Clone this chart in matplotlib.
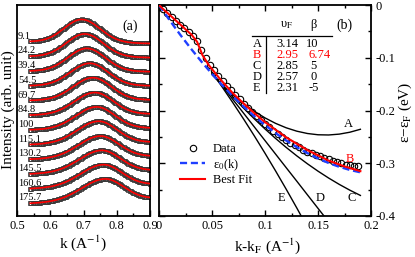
import matplotlib
matplotlib.use('Agg')
import matplotlib.pyplot as plt
import numpy as np
from matplotlib.ticker import MultipleLocator, FixedLocator
from matplotlib.lines import Line2D

plt.rcParams['font.family'] = ['Liberation Serif', 'DejaVu Serif']
plt.rcParams['mathtext.fontset'] = 'stix'

# ---------------- panel (a): MDC curves ----------------
temps = ['9.1', '24.2', '39.4', '54.5', '69.7', '84.8', '100', '115.1', '130.2', '145.5', '160.6', '175.7']
peak_k = [0.695, 0.704, 0.710, 0.719, 0.728, 0.734, 0.739, 0.745, 0.750, 0.754, 0.759, 0.764]
amp = [23.0, 23.0, 23.0, 22.5, 22.5, 22.0, 22.0, 22.0, 21.5, 21.5, 21.5, 21.5]
sig_left = [0.053, 0.055, 0.056, 0.058, 0.059, 0.061, 0.062, 0.064, 0.065, 0.067, 0.068, 0.070]
sig_right = [0.055, 0.055, 0.055, 0.055, 0.055, 0.055, 0.055, 0.055, 0.056, 0.056, 0.056, 0.056]
base_left = [174.3, 159.6, 144.9, 130.2, 115.5, 100.8, 86.1, 71.4, 56.7, 42.0, 27.3, 12.6]
base_right = [172.5, 158.4, 144.3, 130.2, 116.1, 102.0, 87.9, 73.8, 59.7, 45.6, 31.5, 17.4]

# ---------------- panel (b): dispersion ----------------
data_k = [0.004, 0.008, 0.012, 0.016, 0.020, 0.024, 0.028, 0.032, 0.036, 0.040, 0.044, 0.048,
          0.052, 0.056, 0.060, 0.064, 0.068, 0.072, 0.076, 0.080, 0.084, 0.088, 0.092, 0.096,
          0.100, 0.104, 0.108, 0.112, 0.116, 0.120, 0.124, 0.128, 0.132, 0.136, 0.140, 0.144,
          0.148, 0.152, 0.156, 0.160, 0.164, 0.168, 0.172, 0.176, 0.180, 0.184, 0.188]
data_e = [-0.007, -0.016, -0.022, -0.030, -0.037, -0.044, -0.052, -0.059, -0.068, -0.085, -0.100, -0.114,
          -0.124, -0.135, -0.144, -0.153, -0.162, -0.171, -0.179, -0.188, -0.195, -0.203, -0.210, -0.218,
          -0.225, -0.231, -0.238, -0.244, -0.251, -0.256, -0.261, -0.265, -0.270, -0.274, -0.278, -0.281,
          -0.284, -0.287, -0.290, -0.292, -0.296, -0.298, -0.300, -0.303, -0.304, -0.305, -0.305]

fit_k = [0.0, 0.003, 0.019, 0.031, 0.036, 0.041, 0.047, 0.057, 0.070, 0.080, 0.090, 0.100,
         0.120, 0.140, 0.160, 0.175, 0.190]
fit_e = [0.0, -0.006, -0.035, -0.057, -0.070, -0.095, -0.114, -0.139, -0.168, -0.187, -0.205, -0.222,
         -0.251, -0.275, -0.295, -0.306, -0.315]

eps0_k = [0.0, 0.01, 0.02, 0.03, 0.04, 0.05, 0.06, 0.07, 0.08, 0.09, 0.10, 0.11, 0.12, 0.13,
          0.14, 0.15, 0.16, 0.17, 0.18, 0.19]
eps0_e = [0.0, -0.0288, -0.0563, -0.0824, -0.1072, -0.1306, -0.1527, -0.1735, -0.1929, -0.2109,
          -0.2276, -0.2429, -0.2569, -0.2696, -0.2809, -0.2908, -0.2995, -0.3067, -0.3126, -0.3172]

curveA_k = [0.05, 0.06, 0.07, 0.08, 0.09, 0.10, 0.11, 0.12, 0.13, 0.14, 0.15, 0.16, 0.17, 0.18, 0.19]
curveA_e = [-0.132, -0.1524, -0.1708, -0.1872, -0.2016, -0.214, -0.2244, -0.2328, -0.2392, -0.2436,
            -0.246, -0.2464, -0.2448, -0.2412, -0.2356]
curveC_k = [0.05, 0.06, 0.07, 0.08, 0.09, 0.10, 0.11, 0.12, 0.13, 0.14, 0.15, 0.16, 0.17, 0.18, 0.19]
curveC_e = [-0.130, -0.153, -0.175, -0.196, -0.216, -0.235, -0.253, -0.270, -0.286, -0.301,
            -0.315, -0.328, -0.340, -0.351, -0.361]
curveD_k = [0.05, 0.06, 0.07, 0.08, 0.09, 0.10, 0.11, 0.12, 0.13, 0.14, 0.15, 0.16]
curveD_e = [-0.1285, -0.154, -0.180, -0.2056, -0.2313, -0.257, -0.2827, -0.3084, -0.334, -0.3598,
            -0.3855, -0.411]
curveE_k = [0.05, 0.06, 0.07, 0.08, 0.09, 0.10, 0.11, 0.12, 0.13, 0.14]
curveE_e = [-0.128, -0.1566, -0.1862, -0.2168, -0.2484, -0.281, -0.3146, -0.3492, -0.3848, -0.4214]

table_names = ['A', 'B', 'C', 'D', 'E']
table_vF = ['3.14', '2.95', '2.85', '2.57', '2.31']
table_beta = ['10', '6.74', '5', '0', '-5']

fig = plt.figure(figsize=(4.15, 2.57), dpi=100)
ax1 = fig.add_axes([17/415, 1-216/257, 133/415, 211/257])
ax2 = fig.add_axes([159/415, 1-216/257, 212/415, 211/257])

for ax in (ax1, ax2):
    for s in ax.spines.values():
        s.set_linewidth(1.3)

# ---- panel (a)
kd = np.arange(0.54, 0.9001, 0.0036)
kf = np.linspace(0.54, 0.9, 300)
for i in range(len(temps)):
    def model(k):
        base = base_left[i] + (base_right[i] - base_left[i]) * (k - 0.54) / 0.36
        sig = np.where(k < peak_k[i], sig_left[i], sig_right[i])
        return base + amp[i] * np.exp(-0.5 * ((k - peak_k[i]) / sig) ** 2)
    ax1.plot(kd, model(kd), 's', ms=2.6, mfc='none', mec='#3a3a3a', mew=0.6, zorder=2)
    ax1.plot(kf, model(kf), color='red', lw=1.2, zorder=3)
    ax1.text(0.503, base_left[i] + 3.0, temps[i], fontsize=7.5, ha='left', va='baseline', zorder=4)

ax1.set_xlim(0.5, 0.9)
ax1.set_ylim(0, 211)
ax1.xaxis.set_major_locator(FixedLocator([0.5, 0.6, 0.7, 0.8, 0.9]))
ax1.xaxis.set_minor_locator(MultipleLocator(0.05))
ax1.set_xticklabels(['0.5', '0.6', '0.7', '0.8', '0.9'])
ax1.set_yticks([])
ax1.tick_params(axis='x', which='both', direction='in', labelsize=9, pad=3, width=1.0)
ax1.tick_params(axis='x', which='major', length=4.5)
ax1.tick_params(axis='x', which='minor', length=2.5)
ax1.text(0.85, 0.9, '(a)', transform=ax1.transAxes, fontsize=10, ha='center', va='center')

# ---- panel (b)
ax2.plot(data_k, data_e, 'o', ms=4.6, mfc='none', mec='black', mew=0.8, zorder=2)
for kk, ee in ((curveA_k, curveA_e), (curveC_k, curveC_e), (curveD_k, curveD_e), (curveE_k, curveE_e)):
    ax2.plot(kk, ee, color='black', lw=1.0, zorder=3)
ax2.plot(eps0_k, eps0_e, color='#1f3fff', lw=1.7, dashes=(3, 1.6), zorder=4)
ax2.plot(fit_k, fit_e, color='red', lw=1.5, zorder=5)

ax2.set_xlim(0, 0.2)
ax2.set_ylim(-0.4, 0)
ax2.xaxis.set_major_locator(FixedLocator([0, 0.05, 0.1, 0.15, 0.2]))
ax2.set_xticklabels(['0', '0.05', '0.1', '0.15', '0.2'])
ax2.xaxis.set_minor_locator(MultipleLocator(0.025))
ax2.yaxis.set_major_locator(FixedLocator([0, -0.1, -0.2, -0.3, -0.4]))
ax2.set_yticklabels(['0', '-0.1', '-0.2', '-0.3', '-0.4'])
ax2.yaxis.set_minor_locator(MultipleLocator(0.05))
ax2.tick_params(axis='both', which='both', direction='in', top=True, right=True, left=True,
                labelleft=False, labelright=True, labelsize=9, pad=3, width=1.0)
ax2.tick_params(axis='both', which='major', length=4.5)
ax2.tick_params(axis='both', which='minor', length=2.5)

# curve labels
ax2.text(0.179, -0.225, 'A', fontsize=9, ha='center', va='center')
ax2.text(0.180, -0.291, 'B', fontsize=9, ha='center', va='center', color='red')
ax2.text(0.182, -0.366, 'C', fontsize=9, ha='center', va='center')
ax2.text(0.152, -0.366, 'D', fontsize=9, ha='center', va='center')
ax2.text(0.116, -0.366, 'E', fontsize=9, ha='center', va='center')

# table
tr = ax2.transAxes
row_y = [0.815, 0.763, 0.711, 0.659, 0.607]
ax2.text(0.604, 0.905, r'υ$_\mathrm{F}$', transform=tr, fontsize=9, ha='center', va='center')
ax2.text(0.728, 0.905, 'β', transform=tr, fontsize=9, ha='center', va='center')
ax2.plot([0.439, 0.816], [0.851, 0.851], transform=tr, color='black', lw=0.9)
ax2.plot([0.505, 0.505], [0.848, 0.583], transform=tr, color='black', lw=0.9)
beta_x = [0.692, 0.705, 0.715, 0.715, 0.705]
for j in range(5):
    c = 'red' if table_names[j] == 'B' else 'black'
    ax2.text(0.462, row_y[j], table_names[j], transform=tr, fontsize=9, ha='center', va='center', color=c)
    ax2.text(0.604, row_y[j], table_vF[j], transform=tr, fontsize=9, ha='center', va='center', color=c)
    ax2.text(beta_x[j], row_y[j], table_beta[j], transform=tr, fontsize=9, ha='left', va='center', color=c)
ax2.text(0.877, 0.905, '(b)', transform=tr, fontsize=10, ha='center', va='center')

handles = [Line2D([], [], marker='o', ls='none', ms=4.6, mfc='none', mec='black', mew=0.8),
           Line2D([], [], color='#1f3fff', lw=1.7, dashes=(3, 1.6)),
           Line2D([], [], color='red', lw=1.5)]
ax2.legend(handles, ['Data', r'ε$_0$(k)', 'Best Fit'], loc='upper left', bbox_to_anchor=(0.10, 0.345),
           frameon=False, fontsize=9, handlelength=2.0, handletextpad=0.6, borderpad=0,
           labelspacing=0.15, borderaxespad=0)

# axis labels
fig.text(83/415, 1-243/257, r'k (A$^{-1}$)', fontsize=11, ha='center', va='center')
fig.text(268/415, 1-246/257, r'k-k$_\mathrm{F}$ (A$^{-1}$)', fontsize=11, ha='center', va='center')
fig.text(8/415, 1-110/257, 'Intensity (arb. unit)', fontsize=11, ha='center', va='center', rotation=90)
fig.text(405/415, 1-112/257, r'ε−ε$_\mathrm{F}$ (eV)', fontsize=11, ha='center', va='center', rotation=90)

fig.savefig('out.png', dpi=100)
